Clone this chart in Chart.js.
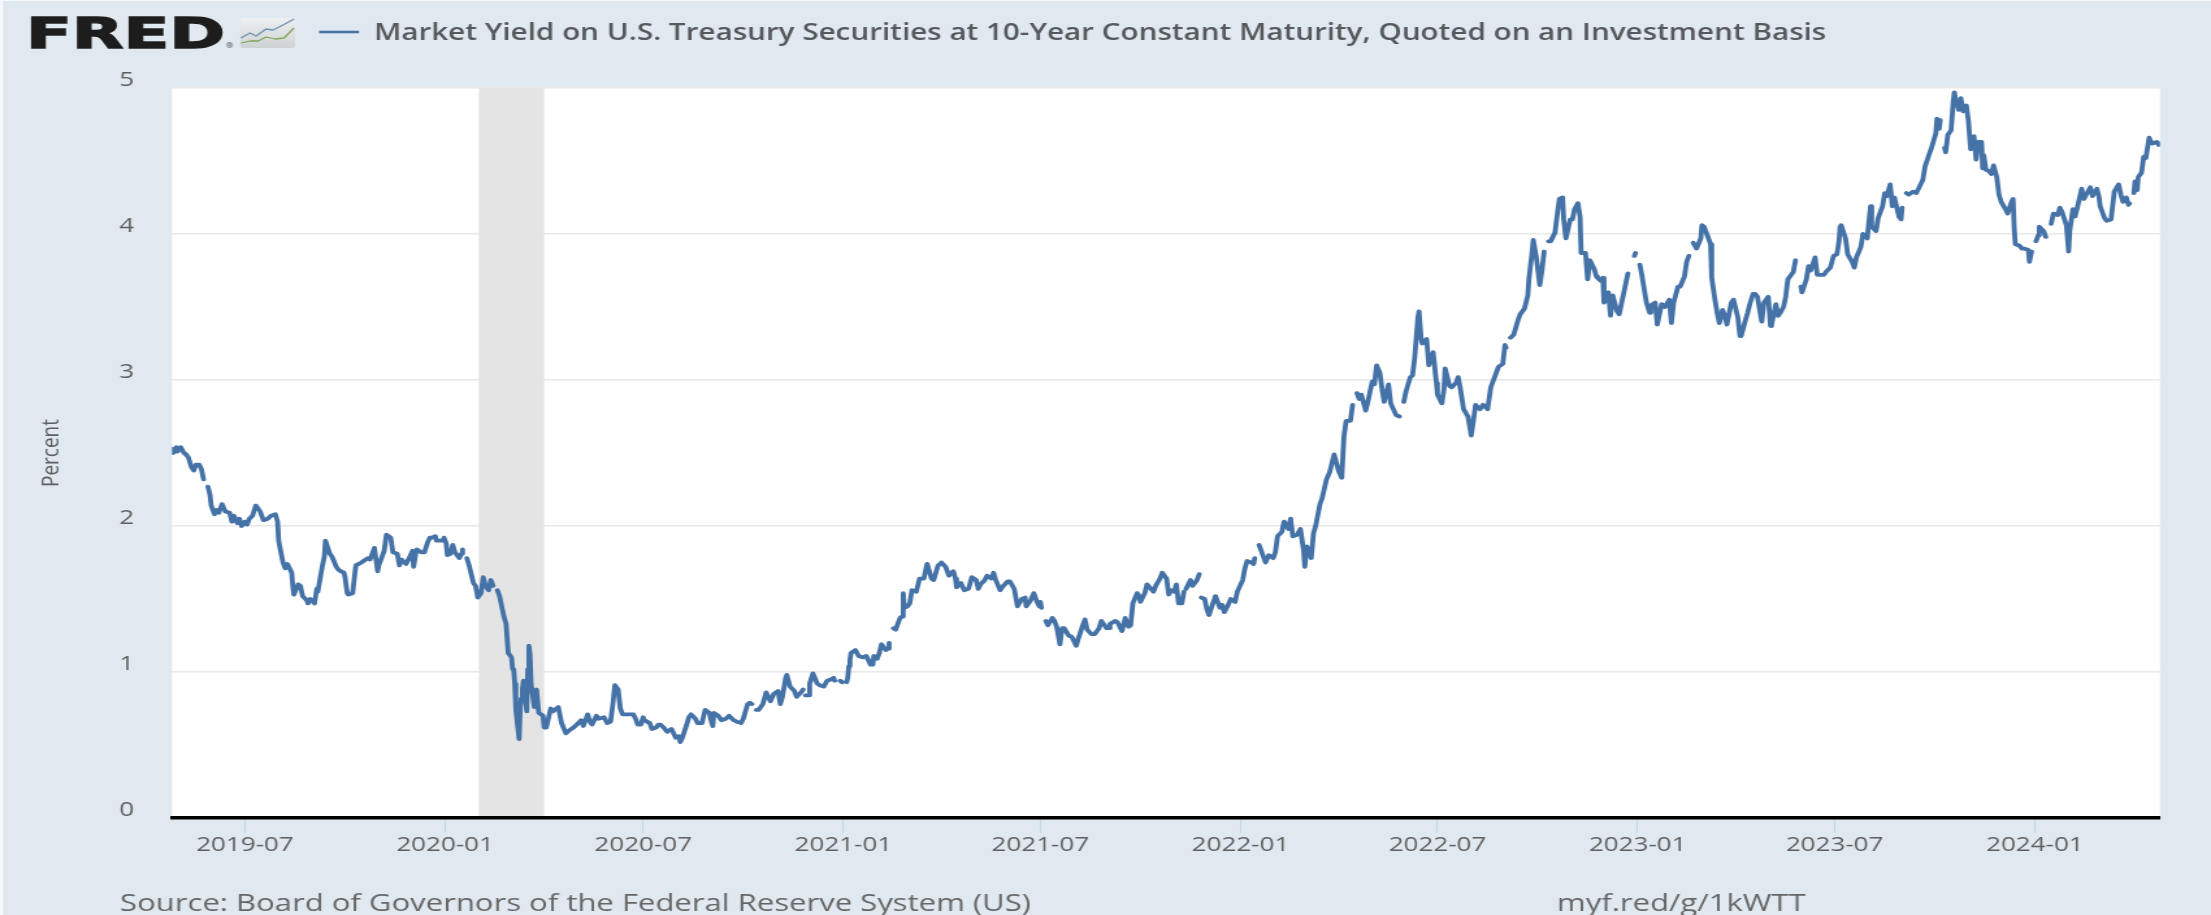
<!DOCTYPE html>
<html><head><meta charset="utf-8"><title>FRED DGS10</title>
<script src="https://cdn.jsdelivr.net/npm/chart.js@4"></script>
<style>
html,body{margin:0;padding:0;background:#f6f8fa;overflow:hidden;width:2211px;height:915px}
#wrap{position:absolute;left:0;top:0;width:2211px;height:915px;overflow:hidden}
#c{position:absolute;left:0;top:0;transform-origin:0 0;filter:blur(0.55px);background:#e1e9f0}
#edgeL{position:absolute;left:0;top:0;width:3px;height:915px;background:#f6f8fa}
#edgeT{position:absolute;left:0;top:0;width:2211px;height:1px;background:#f6f8fa}
</style></head><body>
<div id="wrap"><canvas id="c" width="1701" height="915" style="width:1701px;height:915px"></canvas><div id="edgeL"></div><div id="edgeT"></div></div>
<script>
const seriesLabel = 'Market Yield on U.S. Treasury Securities at 10-Year Constant Maturity, Quoted on an Investment Basis';
const yAxisTitle = 'Percent';
const sourceText = 'Source: Board of Governors of the Federal Reserve System (US)';
const shortLink = 'myf.red/g/1kWTT';
const tickMonths = ['2019-07','2020-01','2020-07','2021-01','2021-07','2022-01','2022-07','2023-01','2023-07','2024-01'];
const yTicks = [0,1,2,3,4,5];
const xRange = ['2019-04-25','2024-04-25'];
const recession = ['2020-02-01','2020-04-01'];

// one line per month; obsDays[i] and obsYields[i] align, null = market holiday gap
const months = ['2019-04','2019-05','2019-06','2019-07','2019-08','2019-09','2019-10','2019-11','2019-12',
 '2020-01','2020-02','2020-03','2020-04','2020-05','2020-06','2020-07','2020-08','2020-09','2020-10','2020-11','2020-12',
 '2021-01','2021-02','2021-03','2021-04','2021-05','2021-06','2021-07','2021-08','2021-09','2021-10','2021-11','2021-12',
 '2022-01','2022-02','2022-03','2022-04','2022-05','2022-06','2022-07','2022-08','2022-09','2022-10','2022-11','2022-12',
 '2023-01','2023-02','2023-03','2023-04','2023-05','2023-06','2023-07','2023-08','2023-09','2023-10','2023-11','2023-12',
 '2024-01','2024-02','2024-03','2024-04'];
const obsDays = [
[25,26,29,30],
[1,3,6,8,10,13,15,17,20,22,24,27,28,30,31],
[3,5,7,10,13,17,19,21,24,26,28],
[1,3,5,8,11,15,18,22,25,29,31],
[1,2,5,7,9,13,14,15,19,21,23,27,28,30],
[3,5,6,10,12,13,17,19,23,25,27,30],
[1,3,4,8,10,11,16,18,22,24,28,31],
[1,4,6,8,12,14,18,20,22,26,29],
[2,3,5,6,10,13,16,18,20,23,24,25,26,30,31],
[2,3,6,8,10,14,16,17,20,21,23,27,29,31],
[3,5,7,10,12,14,17,18,20,24,26,28],
[2,3,4,5,6,9,10,11,12,13,16,17,18,19,20,23,25,27,31],
[1,3,7,9,14,17,21,24,28],
[1,5,7,11,13,15,19,21,26,29],
[1,3,5,8,10,12,15,18,22,24,26,29],
[1,2,7,9,13,15,17,21,23,27,29,31],
[3,4,6,10,12,14,18,20,24,27,31],
[1,3,4,8,11,15,18,22,25,29],
[1,5,7,9,12,13,15,19,22,26,29],
[2,4,6,9,10,13,17,19,23,25,26,27,30],
[1,4,8,10,14,17,21,23,24,25,29,31],
[1,4,5,6,7,8,12,15,19,22,26,28,29],
[1,3,5,9,11,12,15,16,18,22,24,25,26],
[1,3,5,9,12,16,18,19,23,25,29,31],
[1,5,8,12,14,15,19,22,26,29],
[3,5,7,11,13,17,19,21,25,28],
[1,3,7,10,14,17,18,22,25,28,30],
[1,2,5,6,8,12,14,16,19,21,23,27,30],
[3,5,9,11,13,17,20,24,26,31],
[2,3,8,10,14,17,20,22,24,28,30],
[1,5,7,13,15,19,21,25,27,29],
[1,3,5,8,10,11,12,16,18,22,24,25,26,29],
[1,3,7,9,13,15,17,20,23,27,29],
[3,5,7,11,13,14,17,18,20,24,27,31],
[2,4,8,10,14,16,18,22,25,28],
[1,3,7,9,11,15,17,21,24,28,31],
[1,4,6,8,12,14,15,18,20,22,26,28],
[2,4,6,9,11,13,17,19,24,27,30,31],
[2,6,8,10,13,14,16,17,21,23,27,30],
[1,5,7,8,12,14,18,20,22,25,29],
[1,3,5,9,12,16,19,23,26,30],
[1,2,5,6,9,13,15,19,22,23,26,27,30],
[3,5,7,10,11,13,17,19,21,24,25,27,31],
[2,4,7,9,10,14,16,18,22,24,25,28,30],
[1,5,7,9,13,15,19,21,23,26,29,30],
[2,3,5,9,12,13,17,19,23,26,30],
[1,3,7,9,13,15,17,20,21,24,28],
[1,3,7,9,10,13,15,17,20,22,24,28,30],
[3,5,6,10,12,14,17,19,21,25,27],
[1,3,4,8,10,12,15,17,19,22,24,26,29,31],
[1,5,7,9,13,15,21,23,27,30],
[3,5,6,7,11,13,17,19,21,25,27,31],
[1,3,4,8,10,14,16,18,21,23,25,29,31],
[1,4,5,7,11,14,18,20,22,26,28],
[2,3,5,6,9,10,11,13,16,18,19,20,23,25,27,30],
[1,2,3,6,8,10,13,14,15,17,20,22,24,27,29],
[1,5,7,11,12,13,14,18,20,22,26,27,29],
[1,2,4,5,9,11,15,16,18,22,24,26,30],
[1,2,5,7,9,13,15,21,23,27,29],
[1,5,7,11,14,18,20,22,25,27,28,29],
[1,2,4,5,8,10,12,15,16,18,22,24,25]
];
const obsYields = [
[2.53,2.50,2.54,2.51],
[2.52,2.54,2.50,2.49,2.47,2.40,2.38,2.42,2.42,2.39,2.32,null,2.27,2.21,2.14],
[2.08,2.11,2.09,2.15,2.10,2.09,2.03,2.07,2.02,2.05,2.00],
[2.03,2.01,2.05,2.07,2.14,2.10,2.04,2.05,2.07,2.08,2.03],
[1.90,1.86,1.75,1.71,1.74,1.68,1.59,1.53,1.60,1.59,1.52,1.49,1.47,1.50],
[1.47,1.57,1.55,1.72,1.79,1.90,1.81,1.79,1.72,1.70,1.69,1.68],
[1.65,1.54,1.53,1.54,1.67,1.73,1.75,1.76,1.78,1.77,1.85,1.69],
[1.73,1.79,1.83,1.94,1.92,1.82,1.81,1.73,1.77,1.74,1.78],
[1.83,1.72,1.81,1.84,1.82,1.82,1.89,1.92,1.92,1.93,1.90,null,1.90,1.90,1.92],
[1.88,1.80,1.81,1.87,1.82,1.78,1.81,1.84,null,1.78,1.73,1.61,1.59,1.51],
[1.54,1.65,1.59,1.56,1.63,1.59,null,1.56,1.52,1.38,1.33,1.13],
[1.10,1.02,1.02,0.92,0.74,0.54,0.76,0.82,0.88,0.94,0.73,1.02,1.18,1.12,0.92,0.76,0.88,0.72,0.70],
[0.62,0.62,0.75,0.73,0.76,0.65,0.58,0.60,0.62],
[0.64,0.67,0.63,0.71,0.66,0.64,0.70,0.68,0.69,0.65],
[0.66,0.77,0.91,0.88,0.75,0.71,0.71,0.71,0.71,0.68,0.64,0.64],
[0.69,0.67,0.65,0.61,0.62,0.64,0.64,0.61,0.59,0.61,0.58,0.55],
[0.56,0.52,0.55,0.64,0.69,0.71,0.68,0.65,0.65,0.74,0.72],
[0.68,0.63,0.72,0.70,0.67,0.68,0.70,0.67,0.66,0.65],
[0.68,0.78,0.79,0.78,null,0.74,0.74,0.78,0.86,0.80,0.85],
[0.87,0.78,0.83,0.96,0.98,0.90,0.87,0.83,0.86,0.88,null,0.84,0.84],
[0.92,0.99,0.92,0.91,0.90,0.94,0.95,0.96,0.94,null,0.94,0.93],
[null,0.93,0.96,1.04,1.08,1.13,1.15,1.11,1.10,1.11,1.05,1.05,1.11],
[1.09,1.13,1.19,1.15,1.16,1.20,null,1.30,1.29,1.37,1.38,1.54,1.44],
[1.45,1.47,1.56,1.55,1.64,1.64,1.71,1.74,1.64,1.63,1.73,1.74],
[1.75,1.72,1.66,1.69,1.64,1.58,1.61,1.56,1.57,1.65],
[1.63,1.57,1.60,1.63,1.66,1.64,1.68,1.63,1.56,1.59],
[1.62,1.62,1.57,1.45,1.50,1.51,1.45,1.49,1.54,1.48,1.45],
[1.48,1.44,null,1.35,1.32,1.37,1.35,1.31,1.19,1.30,1.30,1.25,1.24],
[1.18,1.23,1.32,1.36,1.29,1.26,1.26,1.30,1.35,1.30],
[1.30,1.33,1.35,1.34,1.28,1.37,1.31,1.32,1.47,1.54,1.52],
[1.48,1.54,1.60,1.55,1.59,1.64,1.68,1.64,1.53,1.56],
[1.55,1.60,1.47,1.47,1.55,null,1.57,1.63,1.59,1.63,1.67,null,1.51,1.50],
[1.43,1.39,1.48,1.52,1.44,1.46,1.41,1.45,1.50,1.48,1.55],
[1.63,1.71,1.76,1.75,1.74,1.78,null,1.87,1.83,1.75,1.80,1.78],
[1.82,1.93,1.96,2.03,1.98,2.05,1.93,1.94,1.98,1.83],
[1.72,1.86,1.78,1.95,2.00,2.15,2.19,2.32,2.37,2.49,2.41],
[2.38,2.33,2.61,2.72,2.72,2.83,null,2.91,2.87,2.90,2.79,2.85],
[2.99,2.97,3.10,3.05,2.94,2.85,2.97,2.84,2.76,2.75,null,2.85],
[2.92,3.02,3.03,3.15,3.43,3.47,3.28,3.25,3.28,3.10,3.19,2.98],
[2.90,2.84,2.94,3.08,2.96,2.95,2.98,3.02,2.94,2.80,2.75],
[2.62,2.72,2.83,2.80,2.83,2.80,2.95,3.03,3.09,3.11],
[3.24,3.22,null,3.29,3.31,3.41,3.45,3.49,3.58,3.69,3.88,3.96,3.83],
[3.65,3.75,3.88,null,3.95,3.95,4.01,4.13,4.24,4.25,4.10,3.97,4.10],
[4.10,4.17,4.21,4.12,3.87,3.87,3.69,3.82,3.76,3.71,3.70,3.68,3.70],
[3.53,3.60,3.44,3.58,3.47,3.45,3.59,3.66,3.73,null,3.85,3.87],
[null,3.79,3.71,3.53,3.46,3.51,3.53,3.38,3.52,3.50,3.55],
[3.39,3.53,3.64,3.64,3.71,3.81,3.85,null,3.94,3.90,3.97],
[4.06,4.05,3.97,3.93,3.70,3.55,3.46,3.39,3.48,3.44,3.38,3.53,3.55],
[3.43,3.30,3.30,3.41,3.46,3.52,3.59,3.59,3.57,3.40,3.53],
[3.57,3.37,3.38,3.52,3.44,3.46,3.50,3.57,3.69,3.72,3.74,3.82,null,3.64],
[3.60,3.69,3.78,3.75,3.84,3.72,3.72,3.74,3.77,3.85],
[3.86,3.95,4.05,4.06,3.97,3.86,3.81,3.77,3.84,3.91,4.00,3.97],
[4.05,4.19,4.05,4.02,4.11,4.19,4.28,4.26,4.34,4.19,4.25,4.12,4.10],
[4.18,null,4.28,4.27,4.29,4.28,4.34,4.37,4.46,4.55,4.59],
[4.69,4.79,4.72,4.78,null,4.59,4.56,4.68,4.71,4.91,4.97,4.93,4.85,4.93,4.84,4.88],
[4.77,4.67,4.58,4.67,4.51,4.63,4.63,4.45,4.54,4.44,4.43,4.41,4.47,4.39,4.27],
[4.22,4.17,4.14,4.23,4.24,4.04,3.93,3.92,3.90,3.90,3.89,3.81,3.88],
[null,3.95,3.99,4.05,4.02,3.98,null,4.07,4.14,4.13,4.18,4.15,4.06],
[3.88,4.02,4.17,4.12,4.18,4.31,4.24,4.32,4.26,4.31,4.25],
[4.19,4.11,4.09,4.10,4.29,4.34,4.27,4.22,4.25,4.20,4.21,null],
[4.28,4.36,4.30,4.39,4.42,4.53,4.52,4.66,4.64,4.62,4.63,4.61,4.62]
];

// page geometry: the reference is stretched wider than tall, so the canvas is too
const FULL_W = 2211, FULL_H = 915, CANVAS_W = 1701;
const K = FULL_W / CANVAS_W;
const px = v => v / K;

const toDay = s => Date.parse(s + 'T00:00:00Z') / 86400000;
const fromDay = d => new Date(d * 86400000).toISOString().slice(0, 7);
const points = [];
months.forEach((m, i) => obsDays[i].forEach((d, j) => {
  points.push({x: toDay(m + '-' + String(d).padStart(2, '0')), y: obsYields[i][j]});
}));

const canvas = document.getElementById('c');
canvas.style.transform = 'scaleX(' + K + ')';
const TEXT = '#5f5f5f', LINE = '#4572a7';
const FONT = '"Open Sans"';

const backdrop = {
  id: 'backdrop',
  beforeDraw(c) {
    const a = c.chartArea, g = c.ctx;
    g.save(); g.fillStyle = '#ffffff';
    g.fillRect(a.left, a.top, a.width, a.height); g.restore();
  },
  beforeDatasetsDraw(c) {
    const a = c.chartArea, g = c.ctx, x = c.scales.x;
    const l = x.getPixelForValue(toDay(recession[0])), r = x.getPixelForValue(toDay(recession[1]));
    g.save(); g.fillStyle = '#e4e4e4';
    g.fillRect(l, a.top, r - l, a.height); g.restore();
  }
};
const furniture = {
  id: 'furniture',
  afterDraw(c) {
    const g = c.ctx;
    g.save();
    // FRED wordmark, wider than the font
    g.save();
    g.translate(px(26), 48); g.scale(1.2, 1);
    g.fillStyle = '#1d1d1d'; g.strokeStyle = '#1d1d1d'; g.lineWidth = 1.4;
    g.font = '900 43px "DejaVu Sans"';
    g.textBaseline = 'alphabetic'; g.textAlign = 'left';
    g.fillText('FRED', 0, 0); g.strokeText('FRED', 0, 0);
    g.restore();
    g.font = '600 7px ' + FONT; g.fillStyle = '#555';
    g.textBaseline = 'alphabetic';
    g.fillText('®', px(226), 48);
    // small chart icon
    const ix = px(240), iy = 18, iw = px(55), ih = 30;
    const grad = g.createLinearGradient(0, iy, 0, iy + ih);
    grad.addColorStop(0, '#eef0f1'); grad.addColorStop(1, '#cfd2d3');
    g.fillStyle = grad; g.beginPath(); g.roundRect(ix, iy, iw, ih, 3); g.fill();
    g.lineWidth = 1.3; g.lineJoin = 'round';
    g.strokeStyle = '#6f93b5'; g.beginPath();
    [[241,38],[250,33],[256,36],[266,29],[273,30],[283,25],[294,19]].forEach((p, i) => i ? g.lineTo(px(p[0]), p[1]) : g.moveTo(px(p[0]), p[1]));
    g.stroke();
    g.strokeStyle = '#7ea85a'; g.beginPath();
    [[241,43],[250,41],[258,41],[266,37],[275,39],[284,38],[294,28]].forEach((p, i) => i ? g.lineTo(px(p[0]), p[1]) : g.moveTo(px(p[0]), p[1]));
    g.stroke();
    // series key
    g.strokeStyle = LINE; g.lineWidth = 2.6; g.beginPath();
    g.moveTo(px(319), 32); g.lineTo(px(359), 32); g.stroke();
    g.fillStyle = '#55585c'; g.font = '600 22.8px ' + FONT; g.textBaseline = 'middle';
    g.fillText(seriesLabel, px(374), 34);
    // footer
    g.fillStyle = '#666'; g.font = '400 23.9px ' + FONT;
    g.fillText(sourceText, px(120), 904);
    g.fillText(shortLink, px(1557), 904);
    g.restore();
  }
};

new Chart(canvas, {
  type: 'line',
  data: {datasets: [{
    label: seriesLabel, data: points, borderColor: LINE, backgroundColor: LINE,
    borderWidth: 3.8, pointRadius: 0, tension: 0, spanGaps: false,
    borderCapStyle: 'round', borderJoinStyle: 'round'
  }]},
  plugins: [backdrop, furniture],
  options: {
    responsive: false, animation: false, parsing: false, normalized: true,
    devicePixelRatio: 1,
    layout: {autoPadding: false, padding: {left: 0, top: 88, right: px(2211 - 2160), bottom: 0}},
    plugins: {legend: {display: false}, title: {display: false}, tooltip: {enabled: false}},
    scales: {
      x: {
        type: 'linear', min: toDay(xRange[0]), max: toDay(xRange[1]),
        afterFit(s) { s.height = 97; },
        afterBuildTicks(s) { s.ticks = tickMonths.map(m => ({value: toDay(m + '-01')})); },
        border: {display: true, color: '#000', width: 3.6, z: 2},
        grid: {drawOnChartArea: false, drawTicks: true, tickLength: 15, tickColor: '#c5d3e3', tickWidth: 1},
        ticks: {
          color: TEXT, font: {family: FONT, size: 20}, padding: 0, maxRotation: 0, minRotation: 0, autoSkip: false,
          callback: v => fromDay(v)
        }
      },
      y: {
        min: 0, max: 5,
        afterFit(s) { s.width = px(172); },
        afterBuildTicks(s) { s.ticks = yTicks.map(v => ({value: v})); },
        border: {display: false},
        grid: {color: '#e8e8e8', lineWidth: 1.6, drawTicks: false},
        ticks: {color: TEXT, font: {family: FONT, size: 20}, padding: px(38), labelOffset: -8, callback: v => String(v)},
        title: {display: true, text: yAxisTitle, color: TEXT, font: {family: FONT, size: 19}, padding: {top: 28, bottom: 0}}
      }
    }
  }
});
</script>
</body></html>
